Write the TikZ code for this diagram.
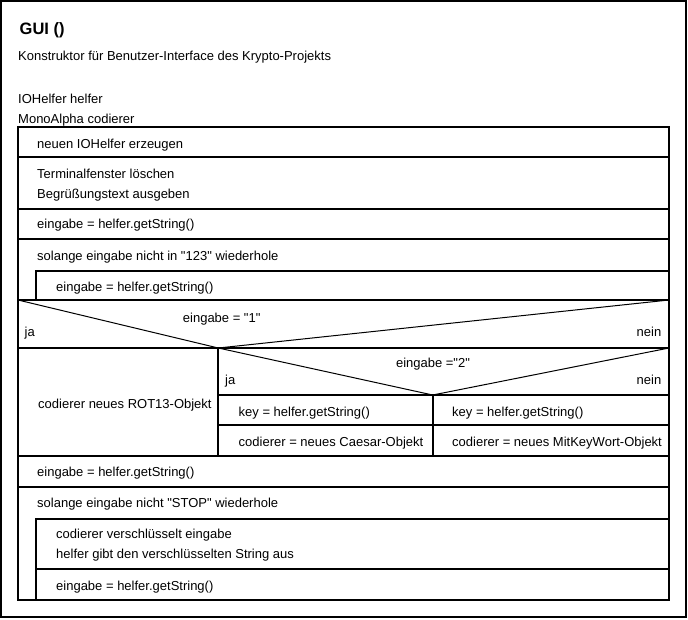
\documentclass[tikz,border=0pt]{standalone}
\usepackage{fontspec}
\setmainfont{Liberation Sans}[Ligatures=TeXOff]
\begin{document}
\begin{tikzpicture}[x=1pt,y=-1pt,
  thickline/.style={line width=2pt},
  diag/.style={line width=1pt},
  txt/.style={anchor=base west, inner sep=0pt, font=\fontsize{13}{20}\selectfont},
  txtr/.style={anchor=base east, inner sep=0pt, font=\fontsize{13}{20}\selectfont},
  txtc/.style={anchor=base, inner sep=0pt, font=\fontsize{13}{20}\selectfont}]
\useasboundingbox (0,0) rectangle (688,619);
% outer frame
\draw[thickline] (1,1) rectangle (685.5,617);
% header texts
\node[anchor=base west, inner sep=0pt, font=\fontsize{16.5}{19}\selectfont\bfseries] (title) at (19.5,34) {GUI ()};
\node[txt] (desc) at (18,60) {Konstruktor für Benutzer-Interface des Krypto-Projekts};
\node[txt] (var1) at (18,103) {IOHelfer helfer};
\node[txt] (var2) at (18,123) {MonoAlpha codierer};
% main block
\draw[thickline] (18,127) rectangle (669,599.5);
\foreach \yy in {157,208.5,238.7,300,348,455.5,487.2}
  \draw[thickline] (18,\yy) -- (669,\yy);
% first loop
\draw[thickline] (36,300) |- (669,270.7);
% if 1
\draw[diag] (18,300) -- (218.3,348) -- (669,300);
\draw[thickline] (218.3,348) -- (218.3,455.5);
% if 2
\draw[diag] (218.3,348) -- (432.7,395) -- (669,348);
\draw[thickline] (218.3,395) -- (669,395);
\draw[thickline] (218.3,425.3) -- (669,425.3);
\draw[thickline] (432.7,395) -- (432.7,455.5);
% second loop
\draw[thickline] (36,599.5) |- (669,518.8);
\draw[thickline] (36,568.8) -- (669,568.8);
% texts
\node[txt] (s1) at (37,148) {neuen IOHelfer erzeugen};
\node[txt] (s2a) at (37,178) {Terminalfenster löschen};
\node[txt] (s2b) at (37,198) {Begrüßungstext ausgeben};
\node[txt] (s3) at (37,228) {eingabe = helfer.getString()};
\node[txt] (w1) at (37,260) {solange eingabe nicht in "123" wiederhole};
\node[txt] (w1b) at (56,291) {eingabe = helfer.getString()};
\node[txtc] (c1) at (221.7,322) {eingabe = "1"};
\node[txt] (ja1) at (24.5,336) {ja};
\node[txtr] (nein1) at (661.5,336) {nein};
\node[txt] (rot) at (38,408) {codierer neues ROT13-Objekt};
\node[txtc] (c2) at (433,367.5) {eingabe ="2"};
\node[txt] (ja2) at (225,384) {ja};
\node[txtr] (nein2) at (661.5,384) {nein};
\node[txt] (k1) at (238.5,416.5) {key = helfer.getString()};
\node[txt] (cae) at (238.5,446.5) {codierer = neues Caesar-Objekt};
\node[txt] (k2) at (452,416.5) {key = helfer.getString()};
\node[txt] (mkw) at (452,446.5) {codierer = neues MitKeyWort-Objekt};
\node[txt] (s4) at (37,476.5) {eingabe = helfer.getString()};
\node[txt] (w2) at (37,507.5) {solange eingabe nicht "STOP" wiederhole};
\node[txt] (b1) at (56,538.5) {codierer verschlüsselt eingabe};
\node[txt] (b2) at (56,558.5) {helfer gibt den verschlüsselten String aus};
\node[txt] (b3) at (56,590) {eingabe = helfer.getString()};
\end{tikzpicture}
\end{document}
